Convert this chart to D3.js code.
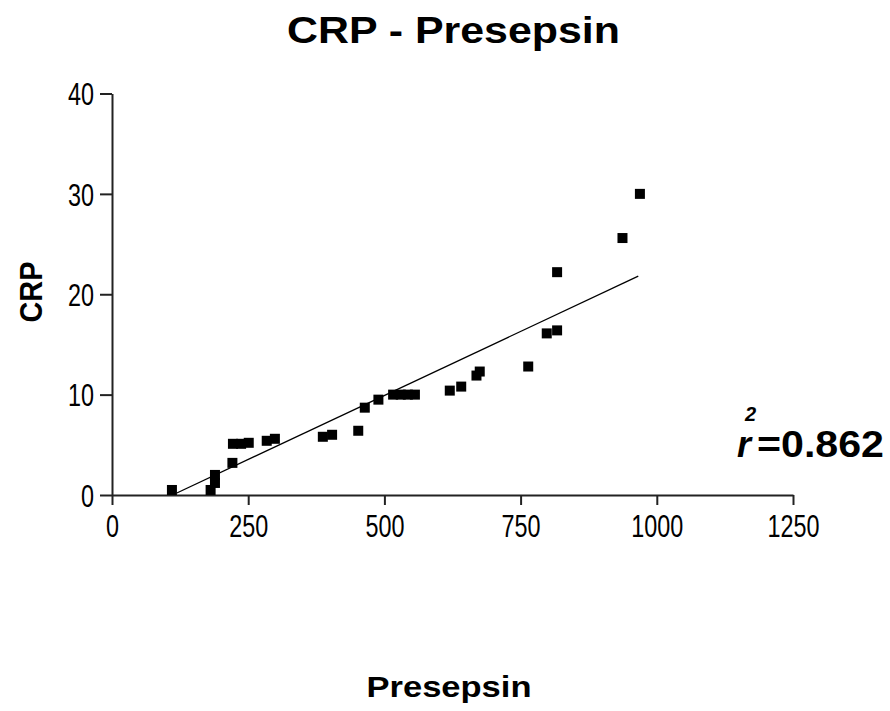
<!DOCTYPE html>
<html>
<head>
<meta charset="utf-8">
<script src="https://cdn.jsdelivr.net/npm/d3@7"></script>
<style>
  html, body { margin: 0; padding: 0; background: #fff; }
  svg { display: block; }
  text { font-family: "Liberation Sans", Arial, sans-serif; fill: #000; }
</style>
</head>
<body>
<svg id="chart" width="890" height="711"></svg>
<script>
// ---- data ----
const presepsin = [110, 181, 189, 189, 221, 222, 237, 251, 284, 299, 387, 404, 452, 464, 489,
                   516, 530, 543, 556, 620, 641, 669, 675, 764, 798, 817, 817, 937, 969];
const crp       = [0.5, 0.5, 1.2, 2.0, 3.2, 5.1, 5.1, 5.2, 5.4, 5.6, 5.8, 6.0, 6.4, 8.7, 9.5,
                   10.0, 10.0, 10.0, 10.0, 10.4, 10.8, 11.9, 12.3, 12.8, 16.1, 16.4, 22.2, 25.6, 30.0];
const fitX = [119, 966];
const fitY = [0.2, 21.8];
const xTicks = [0, 250, 500, 750, 1000, 1250];
const yTicks = [0, 10, 20, 30, 40];
const titleText = "CRP - Presepsin";
const xLabel = "Presepsin";
const yLabel = "CRP";
const r2Label = "=0.862";

// ---- drawing ----
const svg = d3.select("#chart");
const x = d3.scaleLinear().domain([0, 1250]).range([112, 793]);
const y = d3.scaleLinear().domain([0, 40]).range([495, 93.5]);

function fixText(sel) {
  sel.selectAll("text").each(function () {
    const t = d3.select(this);
    const n = t.text().length;
    t.attr("textLength", n * 13).attr("lengthAdjust", "spacingAndGlyphs");
  });
}

const gx = svg.append("g").attr("transform", `translate(0,${y(0)})`)
  .call(d3.axisBottom(x).tickValues(xTicks).tickFormat(d3.format("d")).tickSize(10).tickSizeOuter(0));
gx.select(".domain").attr("stroke", "#222").attr("stroke-width", 2);
gx.selectAll(".tick line").attr("stroke", "#222").attr("stroke-width", 2);
gx.selectAll(".tick text").attr("y", 42).attr("dy", 0)
  .style("font-size", "31px").style("font-family", "Liberation Sans, Arial, sans-serif").attr("fill", "#000");
fixText(gx);

const gy = svg.append("g").attr("transform", `translate(${x(0)},0)`)
  .call(d3.axisLeft(y).tickValues(yTicks).tickFormat(d3.format("d")).tickSize(12).tickSizeOuter(0));
gy.select(".domain").attr("stroke", "#222").attr("stroke-width", 2);
gy.selectAll(".tick line").attr("stroke", "#222").attr("stroke-width", 2);
gy.selectAll(".tick text").attr("x", -18).attr("dy", "0.36em")
  .style("font-size", "31px").style("font-family", "Liberation Sans, Arial, sans-serif").attr("fill", "#000");
fixText(gy);

// regression line
svg.append("line")
  .attr("x1", x(fitX[0])).attr("y1", y(fitY[0]))
  .attr("x2", x(fitX[1])).attr("y2", y(fitY[1]))
  .attr("stroke", "#000").attr("stroke-width", 1.3);

// points
const pts = presepsin.map((v, i) => ({ px: v, cy: crp[i] }));
const s = 10;
svg.append("g").selectAll("rect").data(pts).join("rect")
  .attr("x", d => x(d.px) - s / 2)
  .attr("y", d => y(d.cy) - s / 2)
  .attr("width", s).attr("height", s)
  .attr("fill", "#000");

// titles
svg.append("text").attr("x", 453.5).attr("y", 43).attr("text-anchor", "middle")
  .style("font-size", "37px").style("font-weight", "bold")
  .attr("textLength", 333).attr("lengthAdjust", "spacingAndGlyphs")
  .text(titleText);

svg.append("text").attr("x", 449).attr("y", 697).attr("text-anchor", "middle")
  .style("font-size", "30px").style("font-weight", "bold")
  .attr("textLength", 165).attr("lengthAdjust", "spacingAndGlyphs")
  .text(xLabel);

svg.append("text").attr("transform", "translate(42,292) rotate(-90)").attr("text-anchor", "middle")
  .style("font-size", "32px").style("font-weight", "bold")
  .attr("textLength", 61).attr("lengthAdjust", "spacingAndGlyphs")
  .text(yLabel);

// r^2 annotation
svg.append("text").attr("x", 737).attr("y", 457)
  .style("font-size", "36px").style("font-weight", "bold").style("font-style", "italic")
  .text("r");
svg.append("text").attr("x", 745).attr("y", 421)
  .style("font-size", "20px").style("font-weight", "bold").style("font-style", "italic")
  .text("2");
svg.append("text").attr("x", 757).attr("y", 457)
  .style("font-size", "36px").style("font-weight", "bold")
  .attr("textLength", 127).attr("lengthAdjust", "spacingAndGlyphs")
  .text(r2Label);
</script>
</body>
</html>
